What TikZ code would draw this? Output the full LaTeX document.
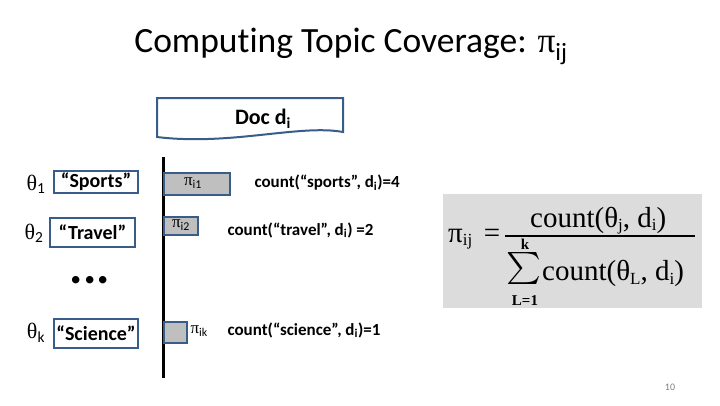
\documentclass[tikz,border=0pt]{standalone}
\usepackage{amsmath}
\usepackage{fontspec}
\setmainfont{Carlito}[Ligatures=NoCommon]
\newfontfamily\grk{Liberation Serif}
\newcommand\lsub[1]{\raisebox{-0.3ex}{\fontsize{17}{17}\selectfont #1}}
\definecolor{boxblue}{HTML}{385D8A}
\definecolor{barfill}{HTML}{BFBFBF}
\definecolor{formbg}{HTML}{DCDCDC}
\tikzset{
  topicbox/.style={draw=boxblue, line width=2pt, inner sep=0pt, font=\fontsize{20}{22}\selectfont\bfseries},
  bar/.style={draw=boxblue, fill=barfill, line width=2pt, inner sep=0pt, anchor=west},
  thlabel/.style={font=\fontsize{22}{24}\selectfont},
  cnt/.style={font=\fontsize{17}{20}\selectfont\bfseries, anchor=west},
  pilab/.style={font=\fontsize{17}{20}\selectfont},
  ftext/.style={font=\fontsize{29}{32}\selectfont\grk, inner sep=0pt},
  fsmall/.style={font=\fontsize{15}{17}\selectfont\grk\bfseries, inner sep=0pt},
}
\begin{document}
\begin{tikzpicture}[x=1pt,y=-1pt]
\useasboundingbox (0,0) rectangle (720,405);
% title
\node[anchor=base, font=\fontsize{35.5}{38}\selectfont] (title) at (351,52) {Computing Topic Coverage: {\grk π}$_{\text{ij}}$};
% doc shape
\draw[boxblue, line width=2pt] (157,98) -- (343,98) -- (343,132) .. controls (300,124) and (230,146) .. (157,137) -- cycle;
\node[font=\fontsize{22}{24}\selectfont\bfseries] (doc) at (263,119) {Doc d$_{\text{i}}$};
% vertical line
\coordinate (ltop) at (163,157);
\coordinate (lbot) at (163,378);
\draw[line width=3pt] (ltop) -- (lbot);
% theta labels
\node[thlabel] (th1) at (36,184) {{\grk θ}$_{\text{1}}$};
\node[thlabel] (th2) at (34,233) {{\grk θ}$_{\text{2}}$};
\node[thlabel] (thk) at (36,333) {{\grk θ}$_{\text{k}}$};
% topic boxes
\node[topicbox, minimum width=84pt, minimum height=22pt] (sports) at (96,182) {“Sports”};
\node[topicbox, minimum width=85pt, minimum height=29pt] (travel) at (92.5,232.5) {“Travel”};
\node[topicbox, minimum width=84pt, minimum height=29pt] (science) at (96,333.5) {“Science”};
% dots
\node[anchor=base, font=\fontsize{50}{50}\selectfont\bfseries] (dots) at (90,283) {...};
% bars
\node[bar, minimum width=66pt, minimum height=22pt] (b1) at (163,184) {};
\node[pilab] (p1) at (193,183) {{\grk π}$_{\text{i1}}$};
\node[bar, minimum width=34pt, minimum height=18pt] (b2) at (163,226) {};
\node[pilab] (p2) at (181,225) {{\grk π}$_{\text{i2}}$};
\node[bar, minimum width=23pt, minimum height=21pt] (bk) at (163,332) {};
\node[pilab, anchor=west] (pk) at (187,331) {{\grk π}$_{\text{ik}}$};
% counts
\node[cnt] (c1) at (251,183) {count(“sports”, d$_{\text{i}}$)=4};
\node[cnt] (c2) at (224,230) {count(“travel”, d$_{\text{i}}$) =2};
\node[cnt] (ck) at (224,330) {count(“science”, d$_{\text{i}}$)=1};
% formula
\fill[formbg] (443,194) rectangle (702,308);
\node[ftext, anchor=base west] (fpi) at (448,242) {π\lsub{ij}};
\node[ftext] (feq) at (492,236) {=};
\node[ftext, anchor=base west] (fnum) at (530,227) {count(θ\lsub{j}, d\lsub{i})};
\coordinate (barl) at (505,236);
\coordinate (barr) at (695,236);
\draw[line width=1.3pt] (barl) -- (barr);
\node[inner sep=0pt] (fsum) at (524,268) {\scalebox{3.3}[3.2]{$\sum$}};
\node[fsmall, anchor=base] (fk) at (525,249) {k};
\node[fsmall, anchor=base] (fl) at (525,305) {L=1};
\node[ftext, anchor=base west] (fden) at (542,280) {count(θ\lsub{L}, d\lsub{i})};
% page number
\node[font=\fontsize{10}{12}\selectfont, text=gray] (pg) at (670,387) {10};
\end{tikzpicture}
\end{document}
